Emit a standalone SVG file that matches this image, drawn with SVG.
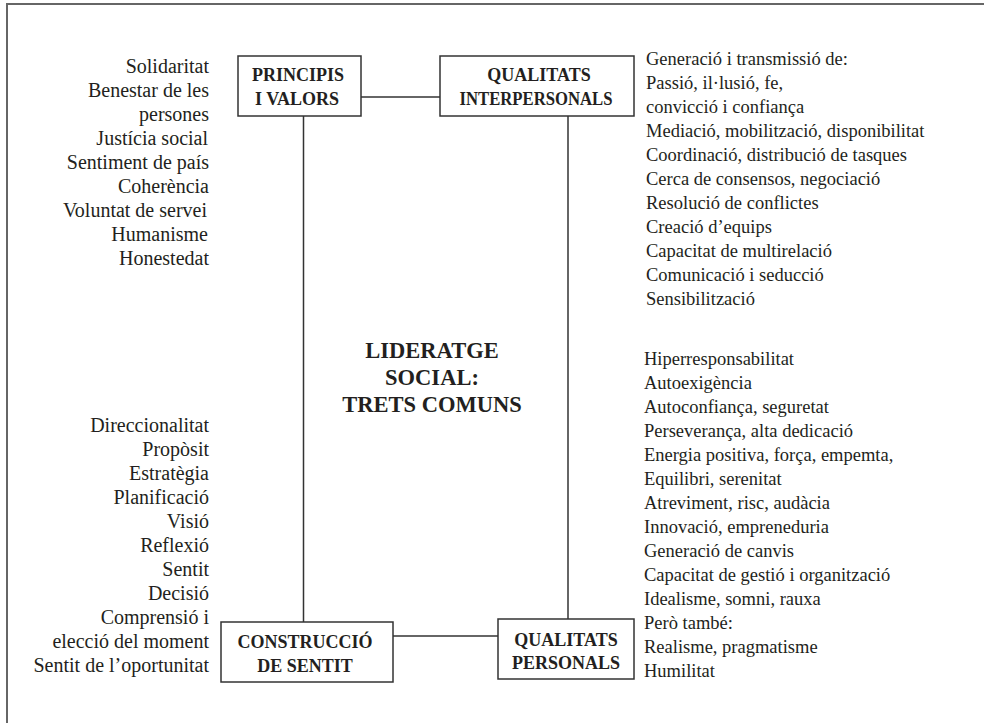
<svg xmlns="http://www.w3.org/2000/svg" width="984" height="723" viewBox="0 0 984 723">
<style>
.bg{fill:#ffffff}
.frame{fill:none;stroke:#666;stroke-width:2}
.box{fill:#ffffff;stroke:#333;stroke-width:1.5}
.conn{fill:none;stroke:#333;stroke-width:1.5}
.bt{font-family:"Liberation Serif","Times New Roman",serif;font-weight:bold;font-size:18px;fill:#231f20;text-anchor:middle}
.title{font-family:"Liberation Serif","Times New Roman",serif;font-weight:bold;font-size:22.5px;fill:#231f20;text-anchor:middle}
.lst{font-family:"Liberation Serif","Times New Roman",serif;font-size:20px;fill:#231f20}
.rl{font-family:"Liberation Serif","Times New Roman",serif;font-size:18.5px;fill:#231f20}
.r{text-anchor:end}
</style>
<rect class="bg" x="0" y="0" width="984" height="723"/>
<path class="frame" d="M7,723 V4 H984"/>
<g id="connectors">
<line class="conn" x1="361" y1="97" x2="440" y2="97"/>
<line class="conn" x1="303.5" y1="116" x2="303.5" y2="622"/>
<line class="conn" x1="568" y1="116" x2="568" y2="619"/>
<line class="conn" x1="393" y1="636" x2="498" y2="636"/>
</g>
<g id="principis">
<rect class="box" x="238" y="56" width="123" height="60"/>
<text class="bt" x="298" y="81">PRINCIPIS</text>
<text class="bt" x="297" y="105">I VALORS</text>
</g>
<g id="interpersonals">
<rect class="box" x="440" y="56" width="194" height="60"/>
<text class="bt" x="539" y="81">QUALITATS</text>
<text class="bt" x="536" y="105" textLength="153" lengthAdjust="spacingAndGlyphs">INTERPERSONALS</text>
</g>
<g id="construccio">
<rect class="box" x="221" y="622" width="172" height="60"/>
<text class="bt" x="305" y="648">CONSTRUCCIÓ</text>
<text class="bt" x="305" y="672">DE SENTIT</text>
</g>
<g id="personals">
<rect class="box" x="498" y="619" width="136" height="60"/>
<text class="bt" x="566" y="645.5">QUALITATS</text>
<text class="bt" x="566" y="668.5">PERSONALS</text>
</g>
<g id="title">
<text class="title" x="432" y="358">LIDERATGE</text>
<text class="title" x="432" y="385">SOCIAL:</text>
<text class="title" x="432" y="412">TRETS COMUNS</text>
</g>
<g id="valors-list">
<text class="lst r" x="209" y="73">Solidaritat</text>
<text class="lst r" x="209" y="97">Benestar de les</text>
<text class="lst r" x="209" y="121">persones</text>
<text class="lst r" x="208" y="145">Justícia social</text>
<text class="lst r" x="209" y="169">Sentiment de país</text>
<text class="lst r" x="209" y="193">Coherència</text>
<text class="lst r" x="207" y="217">Voluntat de servei</text>
<text class="lst r" x="208" y="241">Humanisme</text>
<text class="lst r" x="209" y="265">Honestedat</text>
</g>
<g id="interpersonals-list">
<text class="rl" x="646" y="65">Generació i transmissió de:</text>
<text class="rl" x="646" y="89">Passió, il·lusió, fe,</text>
<text class="rl" x="646" y="113">convicció i confiança</text>
<text class="rl" x="646" y="137">Mediació, mobilització, disponibilitat</text>
<text class="rl" x="646" y="161">Coordinació, distribució de tasques</text>
<text class="rl" x="646" y="185">Cerca de consensos, negociació</text>
<text class="rl" x="646" y="209">Resolució de conflictes</text>
<text class="rl" x="646" y="233">Creació d’equips</text>
<text class="rl" x="646" y="257">Capacitat de multirelació</text>
<text class="rl" x="646" y="281">Comunicació i seducció</text>
<text class="rl" x="646" y="305">Sensibilització</text>
</g>
<g id="sentit-list">
<text class="lst r" x="209" y="432">Direccionalitat</text>
<text class="lst r" x="209" y="456">Propòsit</text>
<text class="lst r" x="209" y="480">Estratègia</text>
<text class="lst r" x="209" y="504">Planificació</text>
<text class="lst r" x="209" y="528">Visió</text>
<text class="lst r" x="209" y="552">Reflexió</text>
<text class="lst r" x="209" y="576">Sentit</text>
<text class="lst r" x="209" y="600">Decisió</text>
<text class="lst r" x="209" y="624">Comprensió i</text>
<text class="lst r" x="209" y="648">elecció del moment</text>
<text class="lst r" x="209" y="672">Sentit de l’oportunitat</text>
</g>
<g id="personals-list">
<text class="rl" x="644" y="365">Hiperresponsabilitat</text>
<text class="rl" x="644" y="389">Autoexigència</text>
<text class="rl" x="644" y="413">Autoconfiança, seguretat</text>
<text class="rl" x="644" y="437">Perseverança, alta dedicació</text>
<text class="rl" x="644" y="461">Energia positiva, força, empemta,</text>
<text class="rl" x="644" y="485">Equilibri, serenitat</text>
<text class="rl" x="644" y="509">Atreviment, risc, audàcia</text>
<text class="rl" x="644" y="533">Innovació, empreneduria</text>
<text class="rl" x="644" y="557">Generació de canvis</text>
<text class="rl" x="644" y="581">Capacitat de gestió i organització</text>
<text class="rl" x="644" y="605">Idealisme, somni, rauxa</text>
<text class="rl" x="644" y="629">Però també:</text>
<text class="rl" x="644" y="653">Realisme, pragmatisme</text>
<text class="rl" x="644" y="677">Humilitat</text>
</g>
</svg>
